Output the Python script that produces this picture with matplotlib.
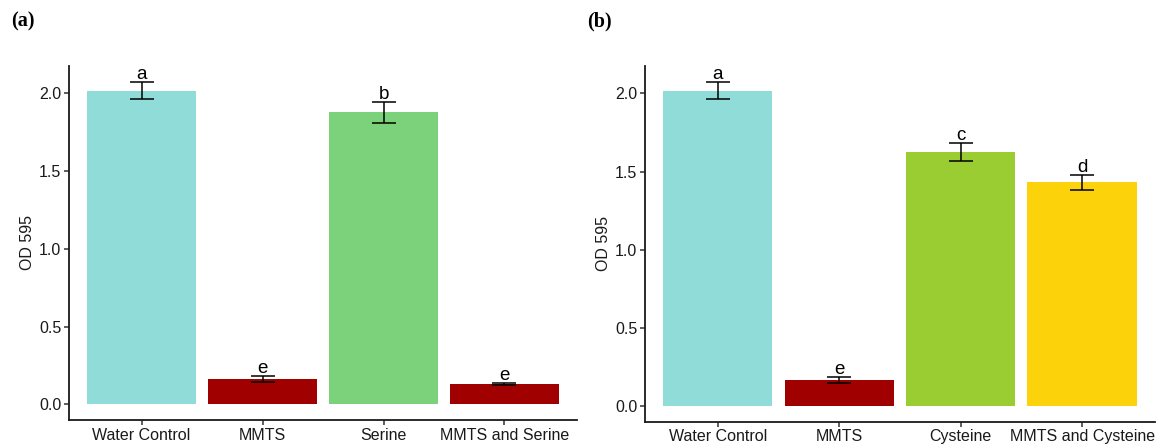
import matplotlib
matplotlib.use('Agg')
import matplotlib.pyplot as plt
import numpy as np

# panel (a)
cats_a = ["Water Control", "MMTS", "Serine", "MMTS and Serine"]
means_a = [2.018, 0.165, 1.878, 0.130]
sd_a = [0.056, 0.020, 0.068, 0.008]
letters_a = ["a", "e", "b", "e"]
colors_a = ["#90DCD8", "#A00000", "#7BD27A", "#A00000"]

# panel (b)
cats_b = ["Water Control", "MMTS", "Cysteine", "MMTS and Cysteine"]
means_b = [2.018, 0.168, 1.625, 1.431]
sd_b = [0.056, 0.020, 0.060, 0.048]
letters_b = ["a", "e", "c", "d"]
colors_b = ["#90DCD8", "#A00000", "#9ACD32", "#FCD20A"]

plt.rcParams['font.family'] = ['Liberation Sans', 'DejaVu Sans']

fig = plt.figure(figsize=(11.62, 4.47), dpi=100)
ax_a = fig.add_axes([0.0594, 0.0604, 0.4372, 0.7920])
ax_b = fig.add_axes([0.5550, 0.0566, 0.4390, 0.7958])


def draw_panel(ax, cats, means, sds, letters, colors):
    x = np.arange(1, len(cats) + 1)
    ax.bar(x, means, width=0.9, color=colors, zorder=2)
    ax.errorbar(x, means, yerr=sds, fmt='none', ecolor='black',
                elinewidth=1.1, capsize=8.3, capthick=1.1, zorder=3)
    for xi, m, s, lab in zip(x, means, sds, letters):
        ax.text(xi, m + s + 0.018, lab, ha='center', va='baseline',
                fontsize=13.5, color='black')
    ax.set_xlim(0.4, 4.6)
    ax.set_ylim(-0.101, 2.176)
    ax.set_yticks([0.0, 0.5, 1.0, 1.5, 2.0])
    ax.set_yticklabels(["0.0", "0.5", "1.0", "1.5", "2.0"])
    ax.set_xticks(x)
    ax.set_xticklabels(cats)
    ax.set_ylabel("OD 595", fontsize=11.5, color='#1a1a1a', labelpad=3)
    for side in ['top', 'right']:
        ax.spines[side].set_visible(False)
    for side in ['left', 'bottom']:
        ax.spines[side].set_linewidth(1.3)
        ax.spines[side].set_color('#1a1a1a')
    ax.tick_params(axis='both', length=3.5, width=1.1, color='#333333',
                   labelsize=11.5, labelcolor='#1a1a1a', pad=2)
    ax.tick_params(axis='x', pad=2)


draw_panel(ax_a, cats_a, means_a, sd_a, letters_a, colors_a)
draw_panel(ax_b, cats_b, means_b, sd_b, letters_b, colors_b)

fig.text(0.010, 0.951, "(a)", fontsize=14.5, fontweight='bold',
         family=['Liberation Serif', 'DejaVu Serif'], va='center')
fig.text(0.505, 0.951, "(b)", fontsize=14.5, fontweight='bold',
         family=['Liberation Serif', 'DejaVu Serif'], va='center')

fig.savefig("out.png", dpi=100)
